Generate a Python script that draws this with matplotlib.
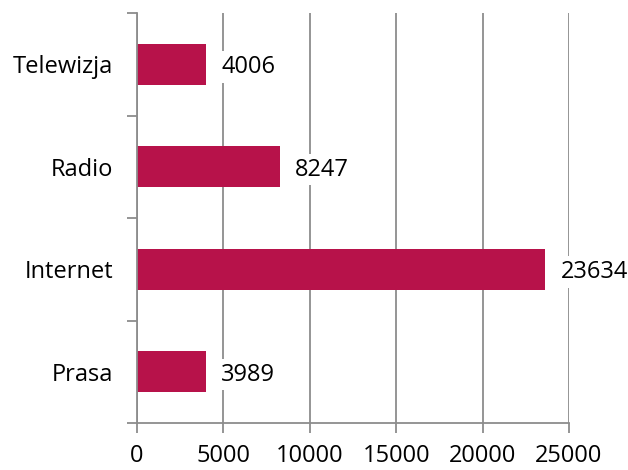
import matplotlib
matplotlib.use("Agg")
import matplotlib.pyplot as plt
import numpy as np

categories = ["Telewizja", "Radio", "Internet", "Prasa"]
values = [4006, 8247, 23634, 3989]
xticks = [0, 5000, 10000, 15000, 20000, 25000]

bar_color = "#B7124A"
grey = "#8C8C8C"

plt.rcParams["font.family"] = ["Open Sans", "DejaVu Sans"]

fig = plt.figure(figsize=(6.28, 4.70), dpi=100)
ax = fig.add_axes([137 / 628, 1 - 423 / 470, (569 - 137) / 628, (423 - 13) / 470])

pos = np.arange(len(categories))[::-1]
ax.barh(pos, values, height=0.4, color=bar_color, zorder=2)

for p, v in zip(pos, values):
    ax.annotate(str(v), xy=(v, p), xytext=(11, -2), textcoords="offset points",
                va="center", ha="left", fontsize=17, zorder=3,
                bbox=dict(boxstyle="square,pad=0.15", fc="white", ec="none"))

ax.set_xlim(0, 25000)
ax.set_ylim(-0.5, len(categories) - 0.5)
ax.set_xticks(xticks)
ax.set_xticklabels([str(t) for t in xticks], fontsize=17)
ax.xaxis.grid(True, color=grey, linewidth=1.3, zorder=0)
ax.set_axisbelow(True)

ax.set_yticks(pos)
ax.set_yticklabels(categories, fontsize=17)
ax.set_yticks(np.arange(-0.5, len(categories), 1.0), minor=True)
ax.tick_params(axis="y", which="major", length=0, pad=17)
ax.tick_params(axis="y", which="minor", length=7, width=1.3, color=grey)
ax.tick_params(axis="x", which="major", length=7, width=1.3, color=grey, pad=8)

for s in ["top", "right"]:
    ax.spines[s].set_visible(False)
for s in ["left", "bottom"]:
    ax.spines[s].set_color(grey)
    ax.spines[s].set_linewidth(1.3)

fig.savefig("out.png", dpi=100)
